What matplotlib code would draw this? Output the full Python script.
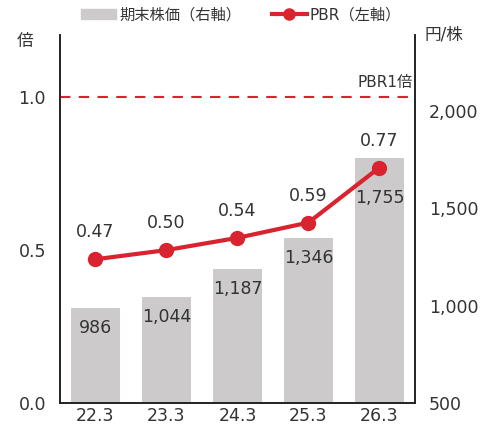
import matplotlib.pyplot as plt
from matplotlib.patches import Patch
from matplotlib.lines import Line2D

plt.rcParams['font.family'] = ['DejaVu Sans', 'Noto Sans CJK JP']

years = ['22.3', '23.3', '24.3', '25.3', '26.3']
price = [986, 1044, 1187, 1346, 1755]
pbr = [0.47, 0.50, 0.54, 0.59, 0.77]
price_labels = ['986', '1,044', '1,187', '1,346', '1,755']

red = '#d9232e'
gray = '#cccacb'
txt = '#333333'

fig = plt.figure(figsize=(5.02, 4.28), dpi=100)
ax = fig.add_axes([0.1195, 0.0584, 0.707, 0.8596])
ax2 = ax.twinx()

x = range(len(years))
ax2.bar(x, price, width=0.7, color=gray, bottom=0, zorder=1)
ax2.set_ylim(500, 2387)
for i, v in enumerate(price):
    # last label sits lower so the marker doesn't cover it
    off = -40 if i == len(price) - 1 else -20
    ax2.annotate(price_labels[i], (i, v), xytext=(0, off), textcoords='offset pixels',
                 ha='center', va='center', fontsize=12.5, color=txt)

ax.set_zorder(ax2.get_zorder() + 1)
ax.patch.set_visible(False)
ax.plot(x, pbr, color=red, lw=3, marker='o', ms=10, zorder=5)
for i, v in enumerate(pbr):
    ax.annotate(f'{v:.2f}', (i, v), xytext=(0, 27), textcoords='offset pixels',
                ha='center', va='center', fontsize=12.5, color=txt)
ax.axhline(1.0, color=red, lw=1.5, ls=(0, (5, 4)))
ax.text(4.47, 1.025, 'PBR1倍', ha='right', va='bottom', fontsize=11, color=txt)

ax.set_ylim(0, 1.203)
ax.set_xlim(-0.5, 4.5)
ax.set_yticks([0.0, 0.5, 1.0])
ax.set_yticklabels(['0.0', '0.5', '1.0'])
ax2.set_yticks([500, 1000, 1500, 2000])
ax2.set_yticklabels(['500', '1,000', '1,500', '2,000'])
ax.set_xticks(list(x))
ax.set_xticklabels(years)

for a in (ax, ax2):
    a.spines['top'].set_visible(False)
    for s in ('left', 'right', 'bottom'):
        a.spines[s].set_color('#222222')
        a.spines[s].set_linewidth(1.2)
    a.tick_params(length=0, labelsize=12.5, colors=txt, pad=10)
ax.tick_params(axis='x', pad=3)

fig.text(0.05, 0.905, '倍', fontsize=12, color=txt, ha='center', va='center')
fig.text(0.885, 0.92, '円/株', fontsize=12, color=txt, ha='center', va='center')

handles = [Patch(color=gray), Line2D([0], [0], color=red, lw=3, marker='o', ms=8)]
fig.legend(handles, ['期末株価（右軸）', 'PBR（左軸）'], loc='upper center',
           bbox_to_anchor=(0.48, 1.015), ncol=2, frameon=False, fontsize=11,
           handlelength=2.3, handleheight=0.6, columnspacing=2.0, handletextpad=0.2,
           labelcolor=txt)

fig.savefig('out.png', dpi=100)
